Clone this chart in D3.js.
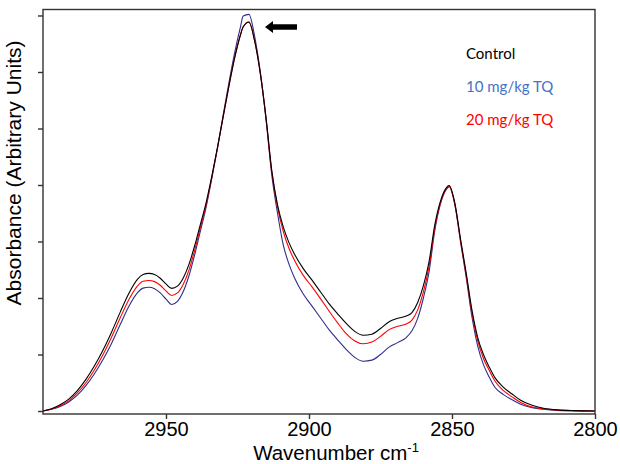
<!DOCTYPE html>
<html>
<head>
<meta charset="utf-8">
<script src="https://cdn.jsdelivr.net/npm/d3@7"></script>
<style>
  body { margin: 0; background: #fff; }
  svg { display: block; }
</style>
</head>
<body>
<script>
"use strict";

const W = 620;
const H = 464;
const margin = { top: 9.5, right: 25, bottom: 50, left: 43 };
const width = W - margin.left - margin.right;
const height = H - margin.top - margin.bottom;

// wavenumbers (cm-1)
const wavenumbers = [2993, 2990, 2987, 2984, 2981, 2978, 2975, 2972, 2969, 2966, 2963, 2960, 2958, 2956,
  2954, 2952, 2950, 2948, 2946, 2944, 2942, 2940, 2938, 2936, 2934, 2932, 2930, 2928, 2926, 2924,
  2923, 2921, 2919, 2917, 2915, 2913, 2911, 2909, 2907, 2905, 2902, 2899, 2896, 2893, 2890, 2887,
  2884, 2881, 2878, 2875, 2872, 2869, 2866, 2864, 2862, 2860, 2858, 2856, 2854, 2852, 2851, 2849,
  2847, 2845, 2843, 2841, 2839, 2837, 2835, 2832, 2829, 2826, 2822, 2818, 2813, 2807, 2800];

const control = [0, 0.004, 0.011, 0.021, 0.036, 0.056, 0.08, 0.108, 0.14, 0.175, 0.208, 0.233, 0.2415, 0.2435,
  0.2415, 0.235, 0.225, 0.217, 0.221, 0.235, 0.259, 0.292, 0.33, 0.368, 0.415, 0.466, 0.521, 0.575, 0.625, 0.665,
  0.68, 0.688, 0.655, 0.597, 0.518, 0.425, 0.365, 0.326, 0.298, 0.277, 0.252, 0.232, 0.211, 0.19, 0.172, 0.155,
  0.141, 0.134, 0.136, 0.146, 0.158, 0.164, 0.168, 0.174, 0.192, 0.222, 0.265, 0.33, 0.372, 0.395, 0.399, 0.368,
  0.304, 0.243, 0.178, 0.13, 0.1, 0.078, 0.059, 0.042, 0.03, 0.019, 0.01, 0.005, 0.002, 0.0007, 0];

const tq10 = [0, 0.003, 0.008, 0.016, 0.028, 0.045, 0.066, 0.091, 0.12, 0.153, 0.185, 0.209, 0.2175, 0.219,
  0.2165, 0.209, 0.198, 0.1885, 0.194, 0.211, 0.239, 0.276, 0.318, 0.36, 0.411, 0.466, 0.524, 0.581, 0.634, 0.679,
  0.699, 0.702, 0.663, 0.599, 0.515, 0.417, 0.35, 0.294, 0.26, 0.235, 0.207, 0.186, 0.165, 0.144, 0.126, 0.109,
  0.095, 0.088, 0.09, 0.1, 0.113, 0.121, 0.13, 0.142, 0.164, 0.2, 0.247, 0.32, 0.367, 0.392, 0.397, 0.365,
  0.299, 0.235, 0.166, 0.115, 0.082, 0.06, 0.042, 0.029, 0.02, 0.012, 0.006, 0.003, 0.001, 0.0002, 0];

const tq20 = [0, 0.0035, 0.0095, 0.018, 0.032, 0.05, 0.073, 0.1, 0.131, 0.165, 0.197, 0.221, 0.2295, 0.231,
  0.229, 0.2225, 0.2125, 0.2045, 0.209, 0.224, 0.249, 0.284, 0.324, 0.364, 0.413, 0.465, 0.521, 0.575, 0.625, 0.665,
  0.68, 0.689, 0.655, 0.597, 0.517, 0.423, 0.361, 0.318, 0.288, 0.266, 0.24, 0.22, 0.199, 0.177, 0.156, 0.137,
  0.124, 0.119, 0.122, 0.132, 0.144, 0.15, 0.154, 0.161, 0.179, 0.211, 0.256, 0.324, 0.369, 0.393, 0.398, 0.366,
  0.301, 0.239, 0.173, 0.124, 0.093, 0.072, 0.053, 0.036, 0.025, 0.015, 0.007, 0.004, 0.0015, 0.0007, 0];

const xTicks = [2950, 2900, 2850, 2800];
const yTicks = [0, 0.1, 0.2, 0.3, 0.4, 0.5, 0.6, 0.7];

// drawn in this order: blue under red under black
const seriesValues = [tq10, tq20, control];
const lineColors = ["#2e2e8c", "#ff0000", "#000000"];
const legendNames = ["Control", "10 mg/kg TQ", "20 mg/kg TQ"];
const legendColors = ["#000000", "#4472c4", "#ff0000"];

const svg = d3
  .select("body")
  .append("svg")
  .attr("width", W)
  .attr("height", H);

const g = svg.append("g").attr("transform", `translate(${margin.left},${margin.top})`);

const x = d3.scaleLinear().domain([2993, 2800]).range([0, width]);
const y = d3.scaleLinear().domain([-0.0053, 0.7106]).range([height, 0]);

const line = d3
  .line()
  .x((d) => x(d[0]))
  .y((d) => y(d[1]))
  .curve(d3.curveMonotoneX);

seriesValues.forEach(function (vals, i) {
  g.append("path")
    .datum(wavenumbers.map((w, j) => [w, vals[j]]))
    .attr("fill", "none")
    .attr("stroke", lineColors[i])
    .attr("stroke-width", 1.1)
    .attr("d", line);
});

// frame
g.append("rect")
  .attr("width", width)
  .attr("height", height)
  .attr("fill", "none")
  .attr("stroke", "#333")
  .attr("stroke-width", 1.4);

// axes
const xAxis = g
  .append("g")
  .attr("transform", `translate(0,${height})`)
  .call(d3.axisBottom(x).tickValues(xTicks).tickSize(5).tickFormat(d3.format("d")));
xAxis.select(".domain").remove();
xAxis.selectAll("line").attr("stroke", "#333").attr("stroke-width", 1.4);
xAxis
  .selectAll("text")
  .attr("fill", "#000")
  .attr("font-family", "Liberation Sans, Arial, sans-serif")
  .attr("font-size", 20)
  .attr("dy", "0.7em");

const yAxis = g
  .append("g")
  .call(d3.axisLeft(y).tickValues(yTicks).tickSize(5).tickFormat(""));
yAxis.select(".domain").remove();
yAxis.selectAll("line").attr("stroke", "#333").attr("stroke-width", 1.4);

// axis titles
const xTitle = svg
  .append("text")
  .attr("x", 336)
  .attr("y", 459.5)
  .attr("text-anchor", "middle")
  .attr("font-family", "Liberation Sans, Arial, sans-serif")
  .attr("font-size", 20.5)
  .text("Wavenumber cm");
xTitle.append("tspan").attr("dy", -8).attr("font-size", 13).text("-1");

svg
  .append("text")
  .attr("transform", "translate(21,173) rotate(-90)")
  .attr("text-anchor", "middle")
  .attr("font-family", "Liberation Sans, Arial, sans-serif")
  .attr("font-size", 21)
  .text("Absorbance (Arbitrary Units)");

// legend
svg
  .selectAll(".legend")
  .data(legendNames)
  .enter()
  .append("text")
  .attr("class", "legend")
  .attr("x", 466)
  .attr("y", (d, i) => 59 + i * 33)
  .attr("fill", (d, i) => legendColors[i])
  .attr("font-family", "Lato, Open Sans, sans-serif")
  .attr("font-size", 15)
  .text((d) => d);

// arrow pointing at the main peak
svg
  .append("path")
  .attr("d", "M265,27 L273,21 L273,24.3 L297,24.3 L297,29.7 L273,29.7 L273,33 Z")
  .attr("fill", "#000");
</script>
</body>
</html>
